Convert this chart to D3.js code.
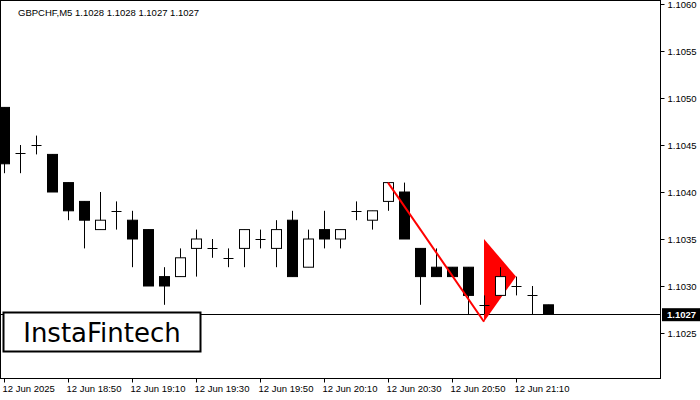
<!DOCTYPE html><html><head><script src="https://cdn.jsdelivr.net/npm/d3@7"></script>
<style>body{margin:0;background:#fff}</style></head><body><svg id="c" width="700" height="400"></svg>
<script>
const opens =[1.1049,1.10442,1.1045,1.1044,1.1041,1.1039,1.1036,1.1038,1.1037,1.1036,1.1031,1.1031,1.1034,1.1034,1.1033,1.1034,1.1035,1.1034,1.1037,1.1032,1.1036,1.1035,1.1038,1.1037,1.1039,1.1040,1.1034,1.1032,1.1032,1.1032,1.1028,1.1029,1.1030,1.1029,1.1028];
const closes=[1.1043,1.10442,1.1045,1.1040,1.1038,1.1037,1.1037,1.1038,1.1035,1.1030,1.1030,1.1033,1.1035,1.1034,1.1033,1.1036,1.1035,1.1036,1.1031,1.1035,1.1035,1.1036,1.1038,1.1038,1.1041,1.1035,1.1031,1.1031,1.1031,1.1029,1.1028,1.1031,1.1030,1.1029,1.1027];
const highs =[1.1049,1.1045,1.1046,1.1044,1.1041,1.1039,1.1040,1.1039,1.1038,1.1036,1.1032,1.1034,1.1036,1.1035,1.1034,1.1036,1.1036,1.1037,1.1038,1.1036,1.1038,1.1036,1.1039,1.1038,1.1041,1.1041,1.1034,1.1034,1.1032,1.1032,1.1029,1.1032,1.1031,1.1030,1.1028];
const lows  =[1.1042,1.1042,1.1044,1.1040,1.1037,1.1034,1.1036,1.1036,1.1032,1.1030,1.1028,1.1031,1.1031,1.1033,1.1032,1.1032,1.1034,1.1032,1.1031,1.1032,1.1034,1.1034,1.1037,1.1036,1.1038,1.1035,1.1028,1.1031,1.1031,1.1027,1.1027,1.1029,1.1029,1.1027,1.1027];
const yTicks=[1.1025,1.1030,1.1035,1.1040,1.1045,1.1050,1.1055,1.1060];
const xTickIdx=[0,4,8,12,16,20,24,28,32];
const xTickLabels=["12 Jun 2025","12 Jun 18:50","12 Jun 19:10","12 Jun 19:30","12 Jun 19:50","12 Jun 20:10","12 Jun 20:30","12 Jun 20:50","12 Jun 21:10"];
const trendLine=[[24,1.1041],[30,1.10262]];
const pennant=[[30,1.10262],[30,1.1035],[32,1.1031]];
const lastPrice=1.1027;

const svg=d3.select("#c");
const x=d3.scaleLinear().domain([0,1]).range([4,20]);
const y=d3.scaleLinear().domain([1.1025,1.1060]).range([333,4]);
const R=660,B=378;
svg.append("defs").append("clipPath").attr("id","pc").append("rect").attr("x",1).attr("y",1).attr("width",R-1).attr("height",B-1);
svg.append("rect").attr("x",0.5).attr("y",0.5).attr("width",R).attr("height",B).attr("fill","none").attr("stroke","#000");
const ya=svg.append("g").attr("transform",`translate(${R+0.5},0)`).call(d3.axisRight(y).tickValues(yTicks).tickFormat(d3.format(".4f")).tickSize(4).tickPadding(3));
ya.select(".domain").remove();
ya.selectAll("text").attr("font-family","Liberation Sans, Arial").attr("font-size",9.5).attr("fill","#000");
const xa=svg.append("g").attr("transform",`translate(0,${B+0.5})`).call(d3.axisBottom(x).tickValues(xTickIdx).tickFormat((d,i)=>xTickLabels[i]).tickSize(4).tickPadding(3));
xa.select(".domain").remove();
xa.selectAll("text").attr("font-family","Liberation Sans, Arial").attr("font-size",9.5).attr("text-anchor","start").attr("fill","#000").attr("dx",-2);
svg.append("line").attr("x1",0).attr("x2",R).attr("y1",Math.round(y(lastPrice))+0.5).attr("y2",Math.round(y(lastPrice))+0.5).attr("stroke","#000");
svg.append("rect").attr("x",R+2).attr("y",y(lastPrice)-6).attr("width",38).attr("height",13).attr("fill","#000");
svg.append("text").attr("x",R+7).attr("y",y(lastPrice)+4).text(d3.format(".4f")(lastPrice)).attr("fill","#fff").attr("font-family","Liberation Sans, Arial").attr("font-size",9.5).attr("font-weight","bold");
svg.append("polygon").attr("points",pennant.map(p=>[x(p[0]),y(p[1])].join(",")).join(" ")).attr("fill","#f00");
const g=svg.append("g").attr("clip-path","url(#pc)");
opens.forEach((o,i)=>{
  const c=closes[i],cx=Math.round(x(i))+0.5;
  g.append("line").attr("x1",cx).attr("x2",cx).attr("y1",y(highs[i])).attr("y2",y(lows[i])).attr("stroke","#000");
  const top=y(Math.max(o,c)),bot=y(Math.min(o,c));
  if(bot-top<1.5){g.append("line").attr("x1",cx-5).attr("x2",cx+5).attr("y1",Math.round(top)+0.5).attr("y2",Math.round(top)+0.5).attr("stroke","#000");}
  else g.append("rect").attr("x",cx-5).attr("y",top).attr("width",10).attr("height",bot-top).attr("fill",c<o?"#000":"#fff").attr("stroke","#000");
});
svg.append("line").attr("x1",x(trendLine[0][0])).attr("y1",y(trendLine[0][1])).attr("x2",x(trendLine[1][0])).attr("y2",y(trendLine[1][1])).attr("stroke","#f00").attr("stroke-width",2);
svg.append("text").attr("x",18).attr("y",16).text("GBPCHF,M5  1.1028 1.1028 1.1027 1.1027").attr("font-family","Liberation Sans, Arial").attr("font-size",9.5);
svg.append("rect").attr("x",3.5).attr("y",312.5).attr("width",197).attr("height",39).attr("fill","#fff").attr("stroke","#000").attr("stroke-width",2);
svg.append("text").attr("x",102).attr("y",342).attr("text-anchor","middle").text("InstaFintech").attr("font-family","DejaVu Sans, Arial").attr("font-size",26).attr("fill","#000");
</script></body></html>
